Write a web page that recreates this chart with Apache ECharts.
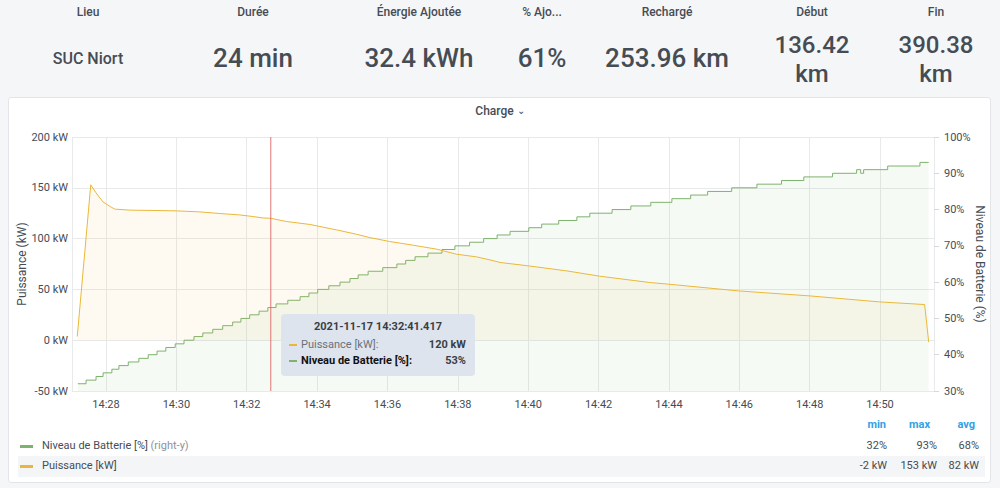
<!DOCTYPE html>
<html>
<head>
<meta charset="utf-8">
<script src="https://cdn.jsdelivr.net/npm/echarts@6/dist/echarts.min.js"></script>
<style>
  html, body { margin:0; padding:0; width:1000px; height:488px; overflow:hidden; background:#f5f6f8; font-family: Roboto, "Noto Sans", sans-serif; color:#464c54; }
  .stat-label { position:absolute; top:5px; font-size:12px; font-weight:500; transform:translateX(-50%); white-space:nowrap; }
  .stat-value { position:absolute; font-weight:500; transform:translate(-50%,-50%); text-align:center; white-space:nowrap; line-height:25px; }
  .stat-value.two { line-height:28.5px; }
  #panel { position:absolute; left:8px; top:97px; width:983px; height:386px; background:#fff; border:1px solid #e3e5e8; border-radius:3px; box-sizing:border-box; }
  #ptitle { position:absolute; left:0; width:1000px; top:104px; text-align:center; font-size:12px; font-weight:500; }
  #chart { position:absolute; left:0; top:0; width:1000px; height:488px; pointer-events:none; }
  .yname { position:absolute; font-size:12px; white-space:nowrap; color:#464c54; }
  #tip { position:absolute; left:281px; top:314px; width:194px; height:62px; background:#dee4ed; border-radius:4px; font-size:11px; color:#3a3f46; }
  #tip .t { position:absolute; top:6px; width:100%; text-align:center; font-weight:700; }
  #tip .row { position:absolute; left:8px; right:9px; height:14px; }
  #tip .sw { position:absolute; left:0; top:6px; width:8px; height:2px; }
  #tip .n { position:absolute; left:12px; top:0; }
  #tip .v { position:absolute; right:0; top:0; font-weight:700; }
  .lg { position:absolute; font-size:11px; }
  .lg .sw { position:absolute; width:13px; height:3px; }
  .hdr { position:absolute; top:418px; font-size:11px; font-weight:700; color:#33a2e5; text-align:right; }
  .num { position:absolute; font-size:11px; text-align:right; }
</style>
</head>
<body>
<div id="stats"></div>
<div id="panel"></div>
<div id="ptitle">Charge <span style="font-size:10px;position:relative;top:-1px;">&#8964;</span></div>
<div id="chart"></div>
<div id="ynames"></div>
<div id="tip"></div>
<div id="legend"></div>
<script>
// ---------- data ----------
const day = '2021-11-17 ';
const statLabels = ['Lieu', 'Durée', 'Énergie Ajoutée', '% Ajo...', 'Rechargé', 'Début', 'Fin'];
const statValues = ['SUC Niort', '24 min', '32.4 kWh', '61%', '253.96 km', '136.42<br>km', '390.38<br>km'];
const axisNames = ['Puissance (kW)', 'Niveau de Batterie (%)'];

const powerSeries = [
  ['14:27:11', 3.6], ['14:27:34', 153], ['14:27:43', 145], ['14:27:55', 136], ['14:28:07', 131.6],
  ['14:28:15', 129], ['14:28:41', 128], ['14:29:20', 127.7], ['14:30:00', 127.3], ['14:30:40', 126.3],
  ['14:31:14', 124.7], ['14:31:48', 123.3], ['14:32:11', 121.7], ['14:32:28', 120.3], ['14:32:41', 120],
  ['14:33:08', 116.8], ['14:33:48', 113.9], ['14:34:33', 108.6], ['14:35:07', 104.3], ['14:35:30', 101],
  ['14:36:04', 97.1], ['14:36:44', 93.5], ['14:37:24', 89.6], ['14:37:58', 84.6], ['14:38:32', 82],
  ['14:38:55', 79], ['14:39:12', 76.5], ['14:40:01', 73.1], ['14:41:06', 68.2], ['14:42:02', 63],
  ['14:43:27', 56.8], ['14:44:00', 55.1], ['14:45:59', 48.5], ['14:48:00', 43.6], ['14:49:59', 37.7],
  ['14:51:16', 35.1], ['14:51:23', -2]
];

const batterySeries = [
  ['14:27:12', 32], ['14:27:26', 33], ['14:27:43', 34], ['14:27:55', 35], ['14:28:10', 36], ['14:28:22', 37],
  ['14:28:38', 38], ['14:28:56', 39], ['14:29:12', 40], ['14:29:27', 41], ['14:29:42', 42], ['14:29:58', 43],
  ['14:30:13', 44], ['14:30:30', 45], ['14:30:45', 46], ['14:31:02', 47], ['14:31:19', 48], ['14:31:36', 49],
  ['14:31:50', 50], ['14:32:05', 51], ['14:32:21', 52], ['14:32:36', 53], ['14:32:50', 54], ['14:33:10', 55],
  ['14:33:31', 56], ['14:33:46', 57], ['14:34:01', 58], ['14:34:20', 59], ['14:34:39', 60], ['14:34:56', 61],
  ['14:35:10', 62], ['14:35:27', 63], ['14:35:52', 64], ['14:36:16', 65], ['14:36:31', 66], ['14:36:47', 67],
  ['14:37:09', 68], ['14:37:33', 69], ['14:37:55', 70], ['14:38:20', 71], ['14:38:44', 72], ['14:39:07', 73],
  ['14:39:29', 74], ['14:40:01', 75], ['14:40:23', 76], ['14:40:52', 77], ['14:41:23', 78], ['14:41:45', 79],
  ['14:42:23', 80], ['14:42:55', 81], ['14:43:29', 82], ['14:44:05', 83], ['14:44:37', 84], ['14:45:06', 85],
  ['14:45:47', 86], ['14:46:30', 87], ['14:47:12', 88], ['14:47:50', 89], ['14:48:39', 90], ['14:49:20', 91],
  ['14:49:27', 90], ['14:49:32', 91], ['14:50:13', 92], ['14:51:08', 93], ['14:51:23', 93]
];

const xRange = ['14:27:02', '14:51:32'];
const powerRange = [-50, 200];
const hoverTime = '14:32:41';
const tipTitle = '2021-11-17 14:32:41.417';
const tipPower = '120 kW';
const tipBattery = '53%';

const legendNames = ['Niveau de Batterie [%]', 'Puissance [kW]'];
const legendStatHeaders = ['min', 'max', 'avg'];
const batteryStats = ['32%', '93%', '68%'];
const powerStats = ['-2 kW', '153 kW', '82 kW'];

const yellow = '#EAB839';
const green = '#7EB26D';
const cursorRed = '#dc5c5c';

// ---------- stats row ----------
const statX = [88, 253, 419, 542, 667, 812, 936];
const statFont = [16, 26, 26, 26, 26, 24, 24];
const statY = [58, 58, 58, 58, 58, 59, 59];
const statsEl = document.getElementById('stats');
statLabels.forEach((l, i) => {
  const a = document.createElement('div');
  a.className = 'stat-label'; a.style.left = statX[i] + 'px'; a.textContent = l;
  statsEl.appendChild(a);
  const b = document.createElement('div');
  b.className = 'stat-value' + (statValues[i].indexOf('<br>') >= 0 ? ' two' : '');
  b.style.left = statX[i] + 'px'; b.style.top = statY[i] + 'px';
  b.style.fontSize = statFont[i] + 'px'; b.innerHTML = statValues[i];
  statsEl.appendChild(b);
});

// ---------- axis names ----------
document.getElementById('ynames').innerHTML =
  '<div class="yname" style="left:22px;top:264px;transform:translate(-50%,-50%) rotate(-90deg)">' + axisNames[0] + '</div>' +
  '<div class="yname" style="left:980px;top:264px;transform:translate(-50%,-50%) rotate(90deg)">' + axisNames[1] + '</div>';

// ---------- tooltip ----------
document.getElementById('tip').innerHTML =
  '<div class="t">' + tipTitle + '</div>' +
  '<div class="row" style="top:24px"><div class="sw" style="background:' + yellow + '"></div><div class="n" style="color:#6b717c">Puissance [kW]:</div><div class="v">' + tipPower + '</div></div>' +
  '<div class="row" style="top:40px"><div class="sw" style="background:' + green + '"></div><div class="n" style="font-weight:700;color:#111">Niveau de Batterie [%]:</div><div class="v">' + tipBattery + '</div></div>';

// ---------- legend table ----------
const lg = document.getElementById('legend');
let h = '<div style="position:absolute;left:18px;top:456px;width:967px;height:21px;background:#f4f5f6"></div>';
const colRight = [887, 937, 979];
const hdrRight = [886, 930, 975];
legendStatHeaders.forEach((s, i) => {
  h += '<div class="hdr" style="left:' + (hdrRight[i] - 40) + 'px;width:40px">' + s + '</div>';
});
h += '<div class="lg" style="left:0;top:0"><div class="sw" style="left:20px;top:445px;background:' + green + '"></div></div>';
h += '<div class="lg" style="left:42px;top:439px">' + legendNames[0] + ' <span style="color:#8e929a">(right-y)</span></div>';
h += '<div class="lg" style="left:0;top:0"><div class="sw" style="left:20px;top:465px;background:' + yellow + '"></div></div>';
h += '<div class="lg" style="left:42px;top:459px">' + legendNames[1] + '</div>';
batteryStats.forEach((s, i) => { h += '<div class="num" style="left:' + (colRight[i] - 50) + 'px;width:50px;top:439px">' + s + '</div>'; });
powerStats.forEach((s, i) => { h += '<div class="num" style="left:' + (colRight[i] - 50) + 'px;width:50px;top:459px">' + s + '</div>'; });
lg.innerHTML = h;

// ---------- chart ----------
const chart = echarts.init(document.getElementById('chart'), null, { renderer: 'svg' });
const toData = arr => arr.map(p => [day + p[0], p[1]]);
const axisText = { color: '#464c54', fontSize: 11, fontFamily: 'Roboto' };
const gridLine = { show: true, lineStyle: { color: '#e8e9ea', width: 1 } };

chart.setOption({
  animation: false,
  backgroundColor: 'transparent',
  grid: { left: 72, right: 66, top: 137, bottom: 97 },
  xAxis: {
    type: 'time',
    min: day + xRange[0], max: day + xRange[1],
    splitNumber: 10,
    axisLine: { show: false }, axisTick: { show: false },
    splitLine: gridLine,
    axisLabel: Object.assign({ formatter: '{HH}:{mm}', margin: 8 }, axisText)
  },
  yAxis: [
    {
      type: 'value', min: powerRange[0], max: powerRange[1], interval: 50,
      axisLine: { show: false }, axisTick: { show: false },
      splitLine: gridLine,
      axisLabel: Object.assign({ formatter: '{value} kW', margin: 4 }, axisText)
    },
    {
      type: 'value', min: 30, max: 100, interval: 10,
      axisLine: { show: false },
      axisTick: { show: true, length: 5, lineStyle: { color: '#d8d9db' } },
      splitLine: { show: false },
      axisLabel: Object.assign({ formatter: '{value}%', margin: 10 }, axisText)
    }
  ],
  series: [
    {
      name: legendNames[0], type: 'line', yAxisIndex: 1, step: 'end', silent: true,
      data: toData(batterySeries), showSymbol: false, symbol: 'none',
      lineStyle: { color: green, width: 1 },
      itemStyle: { color: green },
      areaStyle: { color: 'rgba(126,178,109,0.1)' },
      emphasis: { disabled: true },
      z: 2
    },
    {
      name: legendNames[1], type: 'line', yAxisIndex: 0, silent: true,
      data: toData(powerSeries), showSymbol: false, symbol: 'none',
      lineStyle: { color: yellow, width: 1 },
      itemStyle: { color: yellow },
      areaStyle: { color: 'rgba(234,184,57,0.1)' },
      emphasis: { disabled: true },
      z: 3
    },
    {
      name: 'cursor', type: 'line', yAxisIndex: 0, silent: true,
      data: [[day + hoverTime, powerRange[0]], [day + hoverTime, powerRange[1]]],
      showSymbol: false, symbol: 'none',
      lineStyle: { color: cursorRed, width: 1, opacity: 0.85 },
      itemStyle: { color: cursorRed },
      emphasis: { disabled: true },
      z: 4
    }
  ]
});
</script>
</body>
</html>
